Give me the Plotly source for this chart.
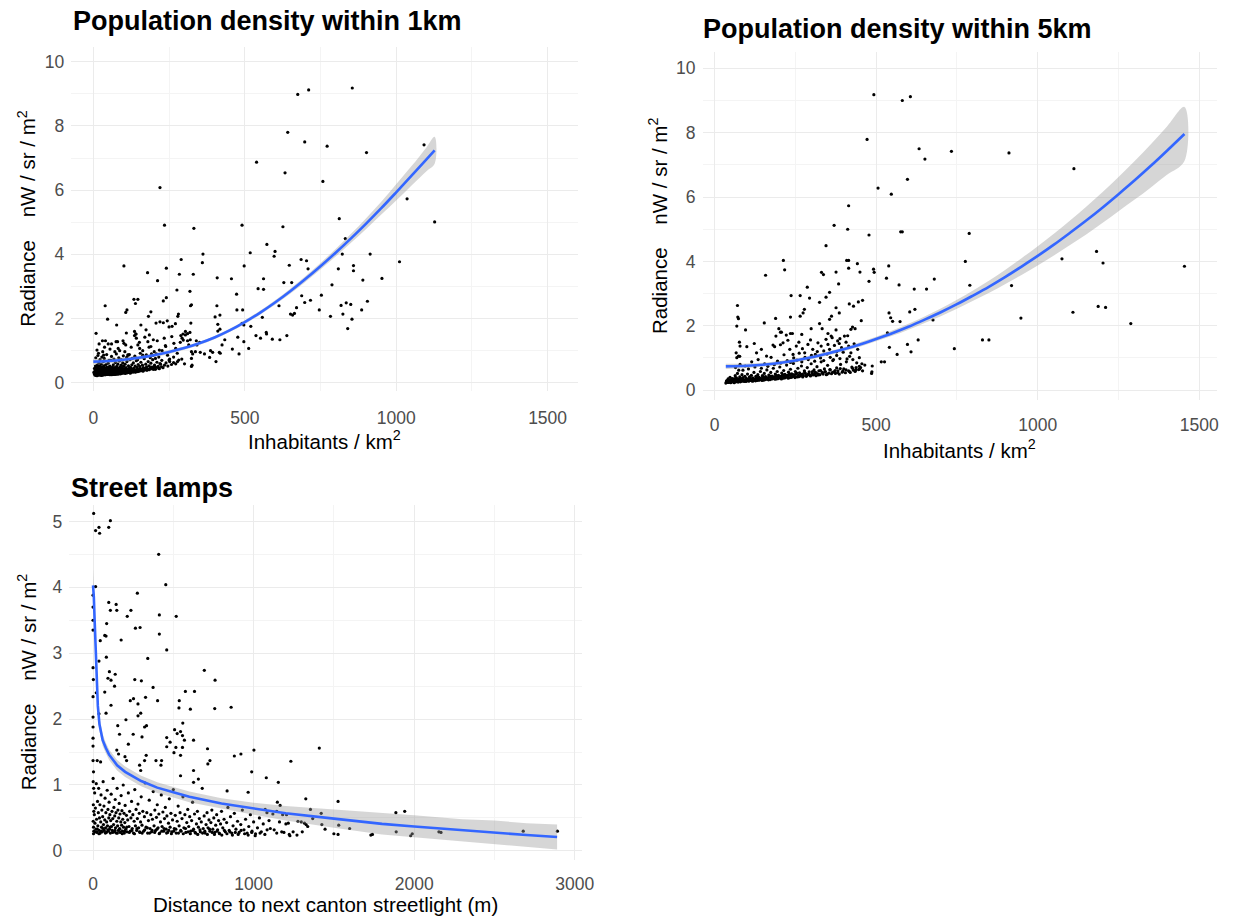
import plotly.graph_objects as go

# ---------------- data ----------------
# Population density within 1 km: (inhabitants/km2, radiance)
km1_sparse = [
    (675, 8.98), (711, 9.12), (855, 9.18), (642, 7.80), (698, 7.50), (772, 7.37), (1092, 7.41), (902, 7.17),
    (539, 6.87), (633, 6.54), (758, 6.27), (220, 6.08), (1036, 5.73), (1127, 5.01), (812, 5.11), (235, 4.91),
    (332, 4.81), (491, 4.91), (626, 4.86), (832, 4.49), (573, 4.31), (600, 4.09), (597, 3.94), (518, 4.05),
    (362, 4.01), (822, 4.01), (914, 4.01), (360, 3.74), (290, 3.84), (686, 3.84), (704, 3.80), (1011, 3.77),
    (709, 3.55), (101, 3.64), (241, 3.57), (498, 3.64), (647, 3.66), (859, 3.65), (859, 3.49), (809, 3.55),
    (179, 3.43), (284, 3.38), (330, 3.38), (409, 3.27), (456, 3.24), (562, 3.24), (953, 3.25), (212, 3.18),
    (629, 3.12), (655, 3.12), (890, 3.20), (788, 3.05), (753, 2.73), (544, 2.93), (562, 2.91), (276, 2.89),
    (319, 2.85), (473, 2.76), (688, 2.71), (717, 2.57), (698, 2.50), (905, 2.54), (134, 2.60), (147, 2.60),
    (139, 2.47), (231, 2.55), (241, 2.65), (39, 2.40), (321, 2.40), (324, 2.43), (408, 2.40), (613, 2.40),
    (818, 2.41), (835, 2.49), (850, 2.44), (111, 2.27), (107, 2.19), (474, 2.27), (493, 2.27), (746, 2.27),
    (886, 2.27), (190, 2.21), (182, 2.07), (671, 2.34), (651, 2.14), (658, 2.11), (664, 2.16), (418, 2.11),
    (402, 2.05), (281, 2.14), (279, 2.07), (558, 2.04), (783, 2.07), (824, 2.14), (854, 1.98), (47, 1.98),
    (840, 1.69), (77, 1.80), (157, 1.80), (207, 1.86), (220, 1.90), (231, 1.87), (244, 1.93), (250, 1.74),
    (260, 1.76), (271, 1.84), (322, 1.86), (411, 1.82), (418, 1.67), (411, 1.61), (491, 1.85), (497, 1.80),
    (520, 1.76), (9, 1.54), (289, 1.47), (296, 1.52), (304, 1.49), (311, 1.53), (319, 1.57), (477, 1.42),
    (537, 1.47), (571, 1.57), (572, 1.52), (591, 1.36), (616, 1.34), (639, 1.47), (297, 1.33), (287, 1.26),
    (311, 1.31), (340, 1.31), (351, 1.26), (434, 1.34), (425, 1.18), (497, 1.28), (459, 1.05), (513, 1.07),
    (324, 0.97), (328, 0.90), (353, 0.95), (367, 0.90), (387, 1.00), (394, 0.95), (416, 0.95), (419, 0.92),
    (481, 0.90), (405, 0.66), (324, 0.51), (552, 1.39), (384, 0.79),
]
km1_middle = [
    (40, 1.31), (49, 1.21), (31, 0.97), (12, 1.02), (17, 0.92), (34, 0.86), (75, 1.28), (82, 1.07), (71, 0.97),
    (101, 1.23), (109, 1.55), (107, 1.18), (104, 0.97), (115, 0.86), (136, 1.60), (140, 1.52), (142, 1.39),
    (147, 1.18), (153, 1.07), (163, 0.86), (174, 1.65), (180, 1.28), (185, 1.49), (190, 1.13), (198, 1.34),
    (201, 0.97), (205, 0.76), (218, 1.02), (220, 0.60), (234, 1.39), (239, 1.13), (245, 0.86), (250, 0.71),
    (259, 1.44), (266, 1.23), (272, 1.07), (277, 0.92), (282, 0.71), (293, 1.39), (304, 1.60), (320, 1.34),
    (315, 1.18), (326, 0.55), (337, 0.97), (342, 1.18), (19, 1.21), (30, 1.31), (37, 1.11), (55, 1.05),
    (60, 1.21), (80, 1.28), (87, 1.00), (98, 1.31), (114, 0.87), (125, 1.11), (136, 1.47), (141, 1.52),
    (152, 1.26), (163, 1.00), (170, 1.42), (184, 1.11), (192, 0.90), (211, 1.31), (227, 1.00), (238, 1.16),
    (252, 0.74), (265, 0.80), (278, 0.66), (292, 0.74), (301, 0.59), (324, 0.76),
]
km1_cluster = [
    (3, 0.28), (5, 0.35), (6, 0.42), (8, 0.25), (9, 0.31), (10, 0.48), (11, 0.38), (12, 0.27), (13, 0.55),
    (14, 0.33), (15, 0.44), (16, 0.26), (17, 0.37), (18, 0.62), (19, 0.30), (20, 0.41), (21, 0.52), (22, 0.28),
    (23, 0.35), (24, 0.46), (25, 0.32), (26, 0.58), (27, 0.27), (28, 0.39), (29, 0.50), (30, 0.34), (31, 0.29),
    (32, 0.43), (33, 0.66), (34, 0.31), (35, 0.37), (36, 0.53), (37, 0.28), (38, 0.45), (39, 0.34), (40, 0.40),
    (41, 0.30), (42, 0.57), (43, 0.36), (44, 0.29), (45, 0.48), (46, 0.33), (47, 0.42), (48, 0.27), (49, 0.61),
    (50, 0.38), (51, 0.31), (52, 0.45), (53, 0.35), (54, 0.29), (55, 0.52), (56, 0.40), (57, 0.33), (58, 0.70),
    (59, 0.28), (60, 0.44), (61, 0.36), (62, 0.31), (63, 0.49), (64, 0.39), (65, 0.30), (66, 0.56), (67, 0.34),
    (68, 0.42), (69, 0.29), (70, 0.47), (71, 0.37), (72, 0.32), (73, 0.63), (74, 0.41), (75, 0.35), (76, 0.30),
    (77, 0.51), (78, 0.38), (79, 0.44), (80, 0.33), (81, 0.58), (82, 0.40), (83, 0.31), (84, 0.46), (85, 0.36),
    (86, 0.68), (87, 0.42), (88, 0.34), (89, 0.50), (90, 0.39), (91, 0.32), (92, 0.55), (93, 0.43), (94, 0.37),
    (95, 0.47), (96, 0.33), (97, 0.62), (98, 0.41), (99, 0.36), (100, 0.52), (102, 0.44), (104, 0.35),
    (105, 0.58), (107, 0.40), (108, 0.47), (110, 0.34), (111, 0.66), (113, 0.42), (115, 0.38), (116, 0.53),
    (118, 0.45), (120, 0.36), (121, 0.72), (123, 0.48), (125, 0.40), (127, 0.56), (129, 0.43), (130, 0.37),
    (132, 0.62), (134, 0.46), (136, 0.41), (138, 0.52), (140, 0.39), (142, 0.69), (144, 0.48), (146, 0.43),
    (148, 0.57), (150, 0.40), (153, 0.51), (155, 0.45), (157, 0.64), (160, 0.42), (162, 0.55), (165, 0.47),
    (168, 0.75), (170, 0.44), (173, 0.58), (176, 0.50), (178, 0.40), (181, 0.66), (184, 0.53), (187, 0.45),
    (190, 0.61), (193, 0.49), (196, 0.72), (199, 0.42), (202, 0.55), (206, 0.48), (210, 0.64), (214, 0.51),
    (218, 0.44), (222, 0.58), (226, 0.70), (230, 0.47), (235, 0.55), (240, 0.62), (246, 0.52), (252, 0.66),
    (258, 0.57), (265, 0.63), (272, 0.59),
    (5, 0.24), (7, 0.30), (9, 0.38), (12, 0.22), (14, 0.26), (17, 0.29), (19, 0.24), (23, 0.27), (26, 0.23),
    (29, 0.26), (32, 0.24), (35, 0.27), (38, 0.25), (42, 0.28), (45, 0.26), (48, 0.32), (51, 0.27), (55, 0.25),
    (58, 0.30), (62, 0.27), (66, 0.26), (70, 0.29), (74, 0.27), (78, 0.31), (82, 0.28), (86, 0.30), (90, 0.28),
    (95, 0.31), (100, 0.30), (106, 0.33), (112, 0.31), (118, 0.32), (124, 0.34), (131, 0.33), (138, 0.35),
    (145, 0.37), (152, 0.36), (160, 0.38), (168, 0.40), (176, 0.39), (185, 0.41), (195, 0.43), (205, 0.42),
    (215, 0.46), (225, 0.50),
    (8, 0.78), (15, 0.85), (22, 0.72), (28, 0.80), (36, 0.76), (44, 0.88), (52, 0.70), (60, 0.82), (68, 0.74),
    (76, 0.90), (84, 0.78), (92, 0.72), (99, 0.84), (110, 0.79), (119, 0.88), (128, 0.76), (137, 0.83),
    (146, 0.72), (155, 0.92), (166, 0.80), (175, 0.87), (188, 0.78), (197, 0.85), (208, 0.90), (216, 0.80),
    (2, 0.33), (4, 0.45), (6, 0.29), (7, 0.52), (9, 0.23), (11, 0.31), (13, 0.40), (15, 0.24), (16, 0.50),
    (18, 0.28), (20, 0.34), (21, 0.25), (23, 0.43), (24, 0.30), (26, 0.38), (28, 0.24), (30, 0.47), (31, 0.36),
    (33, 0.27), (35, 0.52), (36, 0.31), (38, 0.39), (40, 0.25), (42, 0.34), (43, 0.46), (45, 0.31), (47, 0.26),
    (49, 0.37), (50, 0.29), (52, 0.50), (54, 0.33), (56, 0.27), (57, 0.44), (59, 0.36), (61, 0.25), (63, 0.32),
    (65, 0.41), (67, 0.28), (69, 0.36), (71, 0.26), (73, 0.45), (75, 0.29), (77, 0.34), (79, 0.27), (81, 0.39),
    (83, 0.35), (85, 0.28), (88, 0.43), (90, 0.31), (93, 0.29), (96, 0.38), (99, 0.33), (103, 0.40),
    (106, 0.29), (109, 0.37), (114, 0.32), (117, 0.42), (122, 0.30), (126, 0.36), (133, 0.39), (139, 0.33),
    (147, 0.35), (156, 0.40), (164, 0.36), (172, 0.45), (180, 0.43), (190, 0.47), (200, 0.50),
]
km1_fit_x = [0, 50, 100, 150, 200, 250, 300, 350, 400, 450, 500, 550, 600, 650, 700, 750, 800, 850, 900,
             950, 1000, 1050, 1100, 1127]
km1_fit_y = [0.66, 0.68, 0.72, 0.78, 0.86, 0.96, 1.08, 1.23, 1.41, 1.63, 1.89, 2.18, 2.50, 2.85, 3.23, 3.63,
             4.05, 4.49, 4.95, 5.43, 5.93, 6.44, 6.96, 7.24]
km1_fit_se = [0.09, 0.08, 0.07, 0.06, 0.06, 0.06, 0.05, 0.05, 0.05, 0.05, 0.06, 0.06, 0.07, 0.08, 0.09, 0.10,
              0.12, 0.14, 0.17, 0.20, 0.25, 0.30, 0.37, 0.42]

# Population density within 5 km
km5_sparse = [
    (493, 9.18), (581, 9.00), (606, 9.12), (472, 7.79), (633, 7.50), (651, 7.18), (733, 7.42), (911, 7.37),
    (1112, 6.88), (597, 6.55), (506, 6.28), (547, 6.09), (415, 5.73), (370, 5.12), (412, 5.00), (478, 4.82),
    (576, 4.92), (581, 4.92), (788, 4.87), (345, 4.49), (1182, 4.31), (1075, 4.08), (776, 4.00), (1202, 3.95),
    (1454, 3.85), (213, 4.03), (217, 3.74), (158, 3.57), (409, 4.03), (415, 4.03), (442, 3.93), (415, 3.79),
    (376, 3.67), (331, 3.66), (337, 3.59), (450, 3.67), (478, 3.38), (494, 3.66), (492, 3.76), (539, 3.86),
    (532, 3.48), (571, 3.27), (384, 3.30), (618, 3.14), (656, 3.14), (680, 3.45), (790, 3.26), (919, 3.25),
    (287, 3.20), (237, 2.94), (265, 2.94), (294, 2.86), (345, 2.89), (325, 2.73), (356, 3.04), (376, 2.56),
    (386, 2.40), (417, 2.68), (430, 2.61), (445, 2.74), (458, 2.79), (362, 2.30), (356, 2.20), (278, 2.51),
    (274, 2.40), (265, 2.30), (235, 2.27), (189, 2.23), (154, 2.09), (71, 2.63), (72, 2.27), (74, 2.22),
    (69, 1.99), (96, 1.87), (199, 1.91), (207, 1.80), (222, 1.71), (235, 1.76), (241, 1.76), (270, 1.73),
    (299, 1.91), (325, 2.07), (333, 1.91), (351, 1.76), (361, 1.68), (376, 1.87), (381, 1.53), (388, 1.60),
    (412, 1.69), (422, 1.89), (427, 1.96), (435, 1.91), (454, 2.16), (540, 2.40), (545, 2.25), (551, 2.14),
    (535, 1.78), (604, 2.43), (620, 2.51), (574, 2.13), (676, 2.18), (948, 2.24), (1109, 2.42), (1187, 2.60),
    (1210, 2.57), (1288, 2.07), (742, 1.29), (829, 1.56), (849, 1.56), (630, 1.56), (597, 1.42), (608, 1.19),
    (565, 1.11), (541, 1.33), (516, 0.88), (526, 0.88), (488, 0.75), (487, 0.57), (486, 0.52),
]
km5_middle = [
    (77, 1.49), (79, 1.37), (67, 1.16), (74, 1.06), (69, 1.01), (100, 1.35), (123, 1.45), (130, 1.16),
    (145, 1.27), (161, 1.06), (181, 1.40), (186, 1.35), (204, 1.41), (212, 1.47), (190, 1.68), (204, 1.80),
    (227, 1.55), (233, 1.27), (243, 1.11), (253, 1.37), (261, 1.49), (272, 1.29), (279, 1.16), (289, 1.42),
    (297, 1.56), (304, 1.27), (312, 1.11), (320, 1.47), (330, 1.37), (338, 1.22), (345, 1.58), (351, 1.42),
    (356, 1.27), (364, 1.63), (371, 1.39), (378, 1.19), (386, 1.45), (393, 1.32), (402, 1.68), (407, 1.49),
    (415, 1.37), (422, 1.16), (432, 1.44), (443, 1.27), (448, 1.01),
    (65, 0.70), (78, 1.05), (88, 0.62), (95, 0.75), (105, 0.66), (115, 0.88), (125, 0.72), (135, 0.95),
    (145, 0.68), (155, 0.82), (165, 0.74), (175, 1.02), (185, 0.79), (195, 0.90), (205, 0.84), (215, 1.10),
    (225, 0.92), (235, 0.86), (245, 1.00), (255, 0.93), (262, 1.15), (270, 0.88), (280, 1.02), (290, 0.95),
    (300, 1.08), (310, 0.90), (318, 1.20), (328, 1.00), (338, 0.92), (348, 1.12), (358, 1.02), (368, 0.95),
    (378, 1.08), (388, 0.98), (398, 1.18), (408, 0.88), (418, 1.05), (428, 0.95), (438, 0.70), (448, 0.74),
    (456, 0.82),
]
km5_cluster = [
    (35, 0.22), (38, 0.30), (40, 0.26), (42, 0.35), (44, 0.24), (46, 0.28), (48, 0.40), (50, 0.23), (52, 0.31),
    (54, 0.27), (56, 0.36), (58, 0.25), (60, 0.33), (62, 0.29), (64, 0.45), (66, 0.26), (68, 0.38), (70, 0.30),
    (71, 0.52), (72, 0.27), (74, 0.34), (75, 0.62), (76, 0.29), (78, 0.41), (79, 0.80), (80, 0.26), (82, 0.36),
    (84, 0.31), (85, 0.48), (86, 0.28), (88, 0.39), (90, 0.33), (92, 0.27), (94, 0.43), (96, 0.30), (98, 0.37),
    (100, 0.29), (102, 0.50), (104, 0.33), (106, 0.28), (108, 0.41), (110, 0.35), (112, 0.30), (114, 0.46),
    (116, 0.32), (118, 0.38), (120, 0.29), (122, 0.55), (124, 0.35), (126, 0.31), (128, 0.43), (130, 0.37),
    (132, 0.30), (134, 0.48), (136, 0.34), (138, 0.40), (140, 0.32), (142, 0.58), (144, 0.36), (146, 0.33),
    (148, 0.45), (150, 0.39), (152, 0.31), (154, 0.52), (156, 0.36), (158, 0.42), (160, 0.34), (162, 0.63),
    (164, 0.38), (166, 0.35), (168, 0.47), (170, 0.41), (172, 0.33), (174, 0.55), (176, 0.39), (178, 0.44),
    (180, 0.36), (182, 0.68), (184, 0.41), (186, 0.37), (188, 0.50), (190, 0.43), (192, 0.35), (194, 0.58),
    (196, 0.40), (198, 0.46), (200, 0.38), (202, 0.72), (204, 0.43), (206, 0.39), (208, 0.53), (210, 0.45),
    (212, 0.37), (214, 0.61), (216, 0.42), (218, 0.49), (220, 0.40), (223, 0.78), (225, 0.46), (227, 0.41),
    (229, 0.56), (231, 0.48), (233, 0.39), (235, 0.65), (237, 0.44), (239, 0.51), (241, 0.42), (244, 0.83),
    (246, 0.48), (248, 0.43), (250, 0.58), (253, 0.50), (256, 0.41), (258, 0.68), (260, 0.46), (263, 0.54),
    (266, 0.44), (269, 0.75), (272, 0.50), (275, 0.45), (278, 0.60), (281, 0.52), (284, 0.43), (287, 0.70),
    (290, 0.48), (293, 0.57), (296, 0.46), (299, 0.82), (302, 0.52), (305, 0.47), (308, 0.63), (311, 0.55),
    (314, 0.45), (317, 0.73), (320, 0.50), (323, 0.60), (326, 0.48), (330, 0.88), (333, 0.55), (336, 0.50),
    (340, 0.66), (343, 0.57), (346, 0.48), (350, 0.77), (354, 0.53), (358, 0.63), (362, 0.51), (366, 0.92),
    (370, 0.57), (374, 0.52), (378, 0.69), (382, 0.60), (386, 0.50), (390, 0.80), (395, 0.56), (400, 0.66),
    (405, 0.54), (410, 0.97), (415, 0.60), (420, 0.55), (425, 0.72), (430, 0.62), (435, 0.58), (440, 0.85),
    (446, 0.64), (452, 0.70), (458, 0.60), (465, 0.78),
    (37, 0.27), (41, 0.24), (45, 0.31), (49, 0.26), (53, 0.35), (57, 0.28), (61, 0.23), (63, 0.36), (67, 0.31),
    (73, 0.25), (77, 0.33), (81, 0.28), (87, 0.35), (91, 0.30), (97, 0.27), (101, 0.34), (107, 0.30),
    (111, 0.37), (117, 0.28), (121, 0.33), (127, 0.29), (131, 0.40), (137, 0.31), (141, 0.36), (147, 0.30),
    (151, 0.42), (157, 0.33), (161, 0.38), (167, 0.32), (171, 0.44), (177, 0.35), (181, 0.40), (187, 0.34),
    (191, 0.46), (197, 0.36), (201, 0.41), (207, 0.35), (211, 0.48), (217, 0.38), (221, 0.44), (228, 0.37),
    (232, 0.50), (238, 0.40), (243, 0.45), (249, 0.39), (254, 0.53), (261, 0.42), (267, 0.48), (273, 0.41),
    (279, 0.55), (285, 0.46), (291, 0.51), (297, 0.44), (303, 0.58), (309, 0.49), (315, 0.54), (321, 0.47),
    (328, 0.61), (335, 0.52), (342, 0.58), (349, 0.50), (357, 0.64), (365, 0.55), (373, 0.61), (381, 0.54),
    (389, 0.67), (397, 0.59), (407, 0.63), (417, 0.58), (427, 0.68), (437, 0.62), (449, 0.66),
]
km5_fit_x = [35, 100, 150, 200, 250, 300, 350, 400, 450, 500, 550, 600, 650, 700, 750, 800, 850, 900, 950,
             1000, 1050, 1100, 1150, 1200, 1250, 1300, 1350, 1400, 1454]
km5_fit_y = [0.74, 0.76, 0.79, 0.845, 0.92, 1.02, 1.14, 1.27, 1.42, 1.59, 1.77, 1.97, 2.19, 2.42, 2.67, 2.94,
             3.22, 3.52, 3.84, 4.17, 4.52, 4.89, 5.27, 5.67, 6.09, 6.52, 6.97, 7.44, 7.96]
km5_fit_se = [0.08, 0.07, 0.06, 0.06, 0.06, 0.06, 0.06, 0.06, 0.07, 0.07, 0.08, 0.09, 0.10, 0.12, 0.14, 0.16,
              0.19, 0.22, 0.26, 0.30, 0.34, 0.38, 0.43, 0.48, 0.53, 0.60, 0.67, 0.75, 0.84]

# Street lamps: distance to next canton streetlight (m), radiance
lamp_sparse = [
    (4, 5.12), (16, 4.86), (37, 4.91), (41, 4.82), (98, 4.91), (108, 5.01), (409, 4.50), (453, 4.04),
    (16, 4.01), (276, 3.91), (98, 3.77), (144, 3.74), (148, 3.65), (108, 3.65), (213, 3.56), (236, 3.65),
    (413, 3.58), (518, 3.56), (0, 3.50), (85, 3.45), (264, 3.38), (293, 3.39), (413, 3.29), (73, 3.27),
    (81, 3.26), (45, 3.19), (175, 3.20), (459, 3.05), (341, 2.92), (83, 2.94), (0, 2.78), (37, 2.88),
    (102, 2.72), (138, 2.68), (93, 2.62), (112, 2.59), (260, 2.60), (301, 2.58), (693, 2.74), (760, 2.59),
    (134, 2.50), (0, 2.34), (20, 2.40), (73, 2.41), (232, 2.28), (252, 2.31), (280, 2.23), (327, 2.33),
    (374, 2.48), (402, 2.28), (537, 2.28), (575, 2.42), (535, 2.17), (606, 2.15), (632, 2.42), (758, 2.16),
    (860, 2.18), (0, 2.03), (0, 1.88), (37, 2.08), (81, 2.09), (112, 2.21), (280, 2.05), (297, 2.09),
    (205, 1.99), (154, 1.90), (321, 1.88), (333, 1.90), (250, 1.77), (165, 1.77), (305, 1.73), (459, 1.72),
    (508, 1.84), (524, 1.78), (545, 1.81), (559, 1.94), (557, 1.75), (569, 1.68), (626, 1.68), (0, 1.59),
    (0, 1.71), (220, 1.62), (459, 1.58), (480, 1.65), (516, 1.57), (557, 1.57), (504, 1.49), (545, 1.45),
    (713, 1.55), (1002, 1.53), (880, 1.44), (921, 1.47), (0, 1.37), (26, 1.37), (47, 1.35), (148, 1.53),
    (159, 1.47), (199, 1.43), (209, 1.37), (331, 1.45), (321, 1.37), (392, 1.37), (423, 1.30), (427, 1.37),
    (290, 1.30), (297, 1.22), (545, 1.14), (626, 1.22), (715, 1.32), (728, 1.37), (988, 1.20), (1079, 1.11),
    (656, 1.09), (626, 1.04), (835, 0.91), (966, 0.89), (1154, 1.04), (0, 3.88), (0, 3.70), (0, 3.35),
    (2, 2.60), (3, 1.20), (1, 1.05), (4, 0.95), (2, 0.70), (5, 0.60), (1, 0.45), (3, 0.36),
    (1409, 1.56), (1232, 1.36), (1325, 0.79), (1526, 0.75), (1148, 0.74), (1165, 0.69), (1354, 0.63),
    (1421, 0.57), (1886, 0.58), (1941, 0.60), (1083, 0.58), (1120, 0.56), (1144, 0.60), (1181, 0.55),
    (1205, 0.55), (1368, 0.49), (1276, 0.45), (1297, 0.44), (1161, 0.44), (1201, 0.41), (1216, 0.42),
    (1317, 0.42), (1327, 0.40), (1337, 0.37), (1425, 0.40), (1530, 0.39), (1598, 0.34), (1445, 0.33),
    (1104, 0.34), (1128, 0.32), (1144, 0.27), (1175, 0.29), (1189, 0.28), (1222, 0.25), (1226, 0.23),
    (1246, 0.29), (1270, 0.24), (1303, 0.29), (1500, 0.26), (1526, 0.25), (1730, 0.24), (1740, 0.25),
    (1888, 0.29), (1978, 0.23), (1988, 0.26), (2154, 0.29), (2167, 0.28), (2679, 0.30), (2892, 0.30),
]
lamp_cluster = [
    (5, 0.30), (8, 0.55), (10, 0.88), (12, 0.42), (15, 0.65), (18, 0.33), (20, 1.02), (22, 0.48), (25, 0.28),
    (28, 0.75), (30, 0.38), (33, 0.58), (35, 0.95), (38, 0.31), (40, 0.50), (43, 0.70), (45, 0.27), (48, 0.44),
    (50, 0.85), (53, 0.36), (55, 0.62), (58, 0.29), (60, 0.52), (63, 1.05), (65, 0.40), (68, 0.68), (70, 0.31),
    (73, 0.47), (75, 0.80), (78, 0.35), (80, 0.58), (83, 0.28), (85, 0.44), (88, 0.92), (90, 0.38), (93, 0.63),
    (95, 0.30), (98, 0.50), (100, 0.74), (103, 0.33), (105, 0.55), (108, 0.27), (110, 0.46), (113, 0.86),
    (115, 0.37), (118, 0.60), (120, 0.31), (123, 0.49), (125, 1.10), (128, 0.40), (130, 0.66), (133, 0.29),
    (135, 0.53), (138, 0.78), (140, 0.35), (143, 0.58), (145, 0.27), (148, 0.45), (150, 0.95), (153, 0.38),
    (155, 0.62), (158, 0.31), (160, 0.50), (163, 0.72), (165, 0.34), (168, 0.56), (170, 0.28), (173, 0.44),
    (175, 0.84), (178, 0.39), (180, 0.61), (183, 0.30), (185, 0.48), (188, 1.00), (190, 0.36), (193, 0.57),
    (195, 0.27), (198, 0.43), (200, 0.69), (204, 0.33), (208, 0.54), (212, 0.29), (216, 0.47), (220, 0.88),
    (224, 0.37), (228, 0.60), (232, 0.30), (236, 0.50), (240, 0.75), (244, 0.34), (248, 0.55), (252, 0.27),
    (256, 0.45), (260, 0.93), (264, 0.38), (268, 0.63), (272, 0.31), (276, 0.49), (280, 0.71), (284, 0.35),
    (288, 0.57), (292, 0.28), (296, 0.44), (300, 0.82), (305, 0.39), (310, 0.60), (315, 0.30), (320, 0.52),
    (325, 1.03), (330, 0.36), (335, 0.58), (340, 0.27), (345, 0.46), (350, 0.77), (355, 0.34), (360, 0.55),
    (365, 0.29), (370, 0.48), (375, 0.90), (380, 0.38), (385, 0.62), (390, 0.31), (395, 0.51), (400, 0.70),
    (405, 0.35), (410, 0.56), (415, 0.27), (420, 0.44), (425, 0.85), (430, 0.37), (435, 0.59), (440, 0.30),
    (445, 0.49), (450, 0.66), (455, 0.33), (460, 0.53), (465, 0.28), (470, 0.42), (475, 0.79), (480, 0.36),
    (485, 0.57), (490, 0.29), (495, 0.47), (500, 0.93), (506, 0.34), (512, 0.54), (518, 0.27), (524, 0.45),
    (530, 0.68), (536, 0.38), (542, 0.58), (548, 0.30), (554, 0.49), (560, 0.82), (566, 0.35), (572, 0.55),
    (578, 0.28), (584, 0.43), (590, 0.63), (596, 0.37), (602, 0.52), (608, 0.30), (614, 0.46), (620, 0.74),
    (626, 0.33), (632, 0.56), (638, 0.27), (644, 0.41), (650, 0.60), (656, 0.36), (662, 0.49), (668, 0.29),
    (674, 0.44), (680, 0.95), (686, 0.34), (692, 0.53), (698, 0.27), (704, 0.40), (710, 0.58), (716, 0.35),
    (722, 0.47), (728, 0.30), (734, 0.43), (740, 0.62), (746, 0.33), (752, 0.50), (758, 0.28), (764, 0.39),
    (770, 0.55), (776, 0.32), (782, 0.46), (788, 0.26), (794, 0.41), (800, 0.60), (808, 0.35), (816, 0.48),
    (824, 0.29), (832, 0.43), (840, 0.66), (848, 0.31), (856, 0.52), (864, 0.27), (872, 0.38), (880, 0.57),
    (890, 0.33), (900, 0.45), (910, 0.28), (920, 0.40), (930, 0.62), (940, 0.32), (950, 0.48), (960, 0.27),
    (970, 0.37), (980, 0.55), (990, 0.30), (1000, 0.44), (1012, 0.26), (1024, 0.35), (1036, 0.50),
    (1048, 0.29), (1060, 0.41), (1072, 0.63), (1084, 0.32), (1096, 0.46),
    (3, 0.26), (14, 0.29), (27, 0.33), (37, 0.26), (52, 0.30), (62, 0.34), (77, 0.27), (92, 0.32), (107, 0.36),
    (122, 0.28), (137, 0.31), (152, 0.27), (167, 0.33), (182, 0.26), (197, 0.30), (210, 0.36), (226, 0.28),
    (242, 0.31), (258, 0.26), (274, 0.34), (290, 0.29), (306, 0.27), (322, 0.32), (338, 0.35), (352, 0.27),
    (368, 0.31), (384, 0.28), (398, 0.33), (412, 0.26), (428, 0.30), (442, 0.34), (458, 0.27), (472, 0.31),
    (488, 0.26), (502, 0.30), (516, 0.33), (532, 0.27), (546, 0.31), (562, 0.26), (576, 0.34), (592, 0.29),
    (606, 0.26), (622, 0.31), (636, 0.28), (652, 0.25), (666, 0.32), (682, 0.27), (696, 0.30), (712, 0.25),
    (726, 0.33), (742, 0.28), (756, 0.25), (772, 0.30), (786, 0.27), (802, 0.24), (818, 0.31), (834, 0.26),
    (852, 0.29), (868, 0.24), (886, 0.28), (904, 0.25), (922, 0.31), (944, 0.26), (966, 0.24), (988, 0.28),
    (1010, 0.23), (1040, 0.27), (1070, 0.25),
]
lamp_fit_x = [0, 5, 10, 15, 20, 25, 30, 40, 60, 80, 100, 150, 200, 300, 400, 500, 600, 800, 1000, 1200,
              1500, 1800, 2000, 2300, 2500, 2700, 2890]
lamp_fit_y = [4.03, 3.85, 3.50, 3.15, 2.80, 2.45, 2.20, 1.92, 1.68, 1.56, 1.46, 1.30, 1.20, 1.06, 0.96, 0.89,
              0.82, 0.72, 0.64, 0.57, 0.49, 0.41, 0.37, 0.31, 0.28, 0.24, 0.21]
lamp_fit_se = [0.25, 0.22, 0.19, 0.16, 0.14, 0.12, 0.11, 0.10, 0.09, 0.08, 0.08, 0.08, 0.08, 0.08, 0.08,
               0.08, 0.08, 0.08, 0.09, 0.11, 0.14, 0.16, 0.17, 0.17, 0.18, 0.18, 0.19]

# ---------------- figure ----------------
W, H = 1240, 917
FONT = "Liberation Sans, Arial, sans-serif"
GRID_MAJOR = "#EBEBEB"
GRID_MINOR = "#F4F4F4"
NBSP = "\u00a0"


def fx(px):
    return px / W


def fy(py):
    return 1 - py / H


fig = go.Figure()


def add_panel(point_groups, fit_x, fit_y, fit_se, xa, ya, line_shape):
    xs, ys = [], []
    for group in point_groups:
        for x, y in group:
            xs.append(x)
            ys.append(y)
    fig.add_trace(go.Scatter(
        x=xs, y=ys, mode="markers", xaxis=xa, yaxis=ya,
        marker=dict(color="black", size=3.2, line=dict(width=0)), hoverinfo="x+y"))
    upper = [y + s for y, s in zip(fit_y, fit_se)]
    lower = [y - s for y, s in zip(fit_y, fit_se)]
    fig.add_trace(go.Scatter(
        x=fit_x + fit_x[::-1], y=upper + lower[::-1], xaxis=xa, yaxis=ya,
        mode="lines", fill="toself", fillcolor="rgba(153,153,153,0.4)",
        line=dict(width=0, shape=line_shape), hoverinfo="skip"))
    fig.add_trace(go.Scatter(
        x=fit_x, y=fit_y, mode="lines", xaxis=xa, yaxis=ya,
        line=dict(color="#3366FF", width=2.6, shape=line_shape), hoverinfo="skip"))


add_panel([km1_sparse, km1_middle, km1_cluster], km1_fit_x, km1_fit_y, km1_fit_se, "x", "y", "spline")
add_panel([km5_sparse, km5_middle, km5_cluster], km5_fit_x, km5_fit_y, km5_fit_se, "x2", "y2", "spline")
add_panel([lamp_sparse, lamp_cluster], lamp_fit_x, lamp_fit_y, lamp_fit_se, "x3", "y3", "linear")

tickfont = dict(family=FONT, size=17.5, color="#4D4D4D")


def axis(domain, rng, dtick, anchor, standoff):
    return dict(domain=domain, range=rng, dtick=dtick, tick0=0, anchor=anchor,
                showline=False, zeroline=False, ticks="", showgrid=True,
                gridcolor=GRID_MAJOR, gridwidth=1.3, tickfont=tickfont, ticklabelstandoff=standoff,
                minor=dict(dtick=dtick / 2, tick0=0, showgrid=True, gridcolor=GRID_MINOR, gridwidth=0.8))


# panel pixel boxes (left, right, top, bottom)
P1 = (72, 584, 47, 392)
P2 = (710, 1230, 52, 401)
P3 = (70, 588, 506, 862)

fig.update_layout(
    width=W, height=H, margin=dict(l=0, r=0, t=0, b=0),
    paper_bgcolor="white", plot_bgcolor="white", showlegend=False,
    font=dict(family=FONT, color="black"),
    xaxis=axis([fx(P1[0]), fx(P1[1])], [-73, 1600], 500, "y", 14),
    yaxis=axis([fy(P1[3]), fy(P1[2])], [-0.26, 10.46], 2, "x", 6),
    xaxis2=axis([fx(P2[0]), fx(P2[1])], [-37, 1555], 500, "y2", 12),
    yaxis2=axis([fy(P2[3]), fy(P2[2])], [-0.31, 10.51], 2, "x2", 6),
    xaxis3=axis([fx(P3[0]), fx(P3[1])], [-148, 3044], 1000, "y3", 11),
    yaxis3=axis([fy(P3[3]), fy(P3[2])], [-0.14, 5.25], 1, "x3", 6),
)

ytitle = "Radiance" + NBSP * 4 + "nW / sr / m<sup>2</sup>"
xtitle_pop = "Inhabitants / km<sup>2</sup>"
titles = [
    ("<b>Population density within 1km</b>", P1[0], 21),
    ("<b>Population density within 5km</b>", 708, 29),
    ("<b>Street lamps</b>", P3[0], 489),
]
annotations = []
for text, x, y in titles:
    annotations.append(dict(text=text, x=fx(x), y=fy(y), xref="paper", yref="paper",
                            xanchor="left", yanchor="middle", showarrow=False,
                            font=dict(family=FONT, size=27, color="black")))

axis_titles = [
    (xtitle_pop, (P1[0] + P1[1]) / 2, 441, 0),
    (xtitle_pop, (P2[0] + P2[1]) / 2, 450, 0),
    ("Distance to next canton streetlight (m)", (P3[0] + P3[1]) / 2, 906, 0),
    (ytitle, 27, (P1[2] + P1[3]) / 2, -90),
    (ytitle, 665, (P2[2] + P2[3]) / 2, -90),
    (ytitle, 27, (P3[2] + P3[3]) / 2, -90),
]
for text, x, y, ang in axis_titles:
    annotations.append(dict(text=text, x=fx(x), y=fy(y), xref="paper", yref="paper",
                            xanchor="center", yanchor="middle", showarrow=False, textangle=ang,
                            font=dict(family=FONT, size=20.5, color="black")))
fig.update_layout(annotations=annotations)

fig.write_html("out.html")
